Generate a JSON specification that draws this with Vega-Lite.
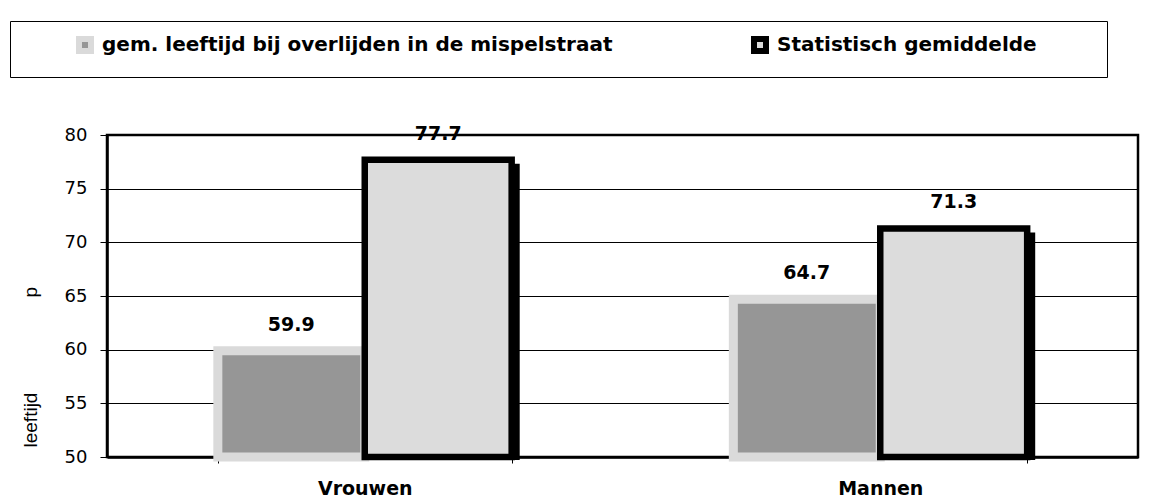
{
  "$schema": "https://vega.github.io/schema/vega-lite/v6.json",
  "width": 1031,
  "height": 322,
  "autosize": {"type": "none"},
  "padding": {"left": 107, "top": 135, "right": 21, "bottom": 44},
  "background": "white",
  "config": {
    "font": "DejaVu Sans",
    "view": {"stroke": "#000", "strokeWidth": 2.5},
    "legend": {
      "orient": "none",
      "legendX": -97,
      "legendY": -114,
      "direction": "horizontal",
      "padding": 14,
      "strokeColor": "#000",
      "strokeWidth": 1,
      "fillColor": "white",
      "symbolType": "square",
      "symbolSize": 144,
      "symbolStrokeWidth": 6,
      "symbolOffset": 51,
      "labelOffset": 7,
      "labelFont": "DejaVu Sans",
      "labelFontSize": 20,
      "labelFontWeight": "bold",
      "labelColor": "#000",
      "labelLimit": 2000,
      "columnPadding": 86,
      "titleOrient": "right",
      "titleFontSize": 1,
      "titlePadding": 56
    }
  },
  "data": {
    "values": [
      {"geslacht": "Vrouwen", "reeks": "gem. leeftijd bij overlijden in de mispelstraat", "leeftijd": 59.9},
      {"geslacht": "Vrouwen", "reeks": "Statistisch gemiddelde", "leeftijd": 77.7},
      {"geslacht": "Mannen", "reeks": "gem. leeftijd bij overlijden in de mispelstraat", "leeftijd": 64.7},
      {"geslacht": "Mannen", "reeks": "Statistisch gemiddelde", "leeftijd": 71.3}
    ]
  },
  "encoding": {
    "x": {
      "field": "geslacht",
      "type": "nominal",
      "sort": ["Vrouwen", "Mannen"],
      "scale": {"paddingInner": 0.43, "paddingOuter": 0.215},
      "axis": {
        "title": null,
        "labelAngle": 0,
        "labelFont": "DejaVu Sans",
        "labelFontSize": 19,
        "labelFontWeight": "bold",
        "labelColor": "#000",
        "labelPadding": 16,
        "tickBand": "extent",
        "tickSize": 6,
        "tickColor": "#000",
        "tickWidth": 1,
        "domain": true,
        "domainColor": "#000",
        "domainWidth": 2.5,
        "grid": false
      }
    },
    "y": {
      "field": "leeftijd",
      "type": "quantitative",
      "scale": {"domain": [50, 80], "zero": false, "nice": false},
      "axis": {
        "values": [50, 55, 60, 65, 70, 75, 80],
        "grid": true,
        "gridColor": "#000",
        "gridWidth": 1,
        "domain": true,
        "domainColor": "#000",
        "domainWidth": 2.5,
        "ticks": true,
        "tickSize": 7,
        "tickColor": "#000",
        "tickWidth": 1,
        "labelFont": "DejaVu Sans",
        "labelFontSize": 18,
        "labelColor": "#000",
        "labelPadding": 13,
        "title": "leeftijd\u00a0\u00a0\u00a0\u00a0\u00a0\u00a0\u00a0\u00a0\u00a0\u00a0\u00a0\u00a0\u00a0\u00a0\u00a0\u00a0\u00a0\u00a0p",
        "titleFont": "Liberation Sans",
        "titleFontSize": 19,
        "titleFontWeight": "normal",
        "titleColor": "#000",
        "titleAngle": 270,
        "titleAlign": "left",
        "titleBaseline": "alphabetic",
        "titleX": -71,
        "titleY": 312
      }
    }
  },
  "layer": [
    {
      "transform": [{"filter": "datum.reeks == 'Statistisch gemiddelde'"}],
      "mark": {"type": "bar", "fill": "#000", "width": {"band": 0.5}, "xOffset": 81.5, "yOffset": 4, "y2Offset": 3},
      "encoding": {
        "x": {"field": "geslacht", "type": "nominal", "sort": ["Vrouwen", "Mannen"]},
        "y2": {"datum": 50}
      }
    },
    {
      "transform": [{"filter": "datum.reeks != 'Statistisch gemiddelde'"}],
      "mark": {"type": "bar", "strokeWidth": 9, "fillOpacity": 1, "strokeOpacity": 1},
      "encoding": {
        "xOffset": {
          "field": "reeks", "type": "nominal",
          "scale": {"domain": ["gem. leeftijd bij overlijden in de mispelstraat", "Statistisch gemiddelde"]}
        },
        "y2": {"datum": 50},
        "fill": {
          "field": "reeks", "type": "nominal",
          "scale": {"domain": ["gem. leeftijd bij overlijden in de mispelstraat", "Statistisch gemiddelde"], "range": ["#969696", "#dcdcdc"]},
          "legend": {"title": "\u00a0"}
        },
        "stroke": {
          "field": "reeks", "type": "nominal",
          "scale": {"domain": ["gem. leeftijd bij overlijden in de mispelstraat", "Statistisch gemiddelde"], "range": ["#dadada", "#000000"]},
          "legend": {"title": "\u00a0"}
        }
      }
    },
    {
      "transform": [{"filter": "datum.reeks == 'Statistisch gemiddelde'"}],
      "mark": {"type": "bar", "strokeWidth": 6.5, "fillOpacity": 1, "strokeOpacity": 1},
      "encoding": {
        "xOffset": {
          "field": "reeks", "type": "nominal",
          "scale": {"domain": ["gem. leeftijd bij overlijden in de mispelstraat", "Statistisch gemiddelde"]}
        },
        "y2": {"datum": 50},
        "fill": {
          "field": "reeks", "type": "nominal",
          "scale": {"domain": ["gem. leeftijd bij overlijden in de mispelstraat", "Statistisch gemiddelde"], "range": ["#969696", "#dcdcdc"]},
          "legend": {"title": "\u00a0"}
        },
        "stroke": {
          "field": "reeks", "type": "nominal",
          "scale": {"domain": ["gem. leeftijd bij overlijden in de mispelstraat", "Statistisch gemiddelde"], "range": ["#dadada", "#000000"]},
          "legend": {"title": "\u00a0"}
        }
      }
    },
    {
      "mark": {"type": "text", "dy": -20, "baseline": "alphabetic", "align": "center", "font": "DejaVu Sans", "fontWeight": "bold", "fontSize": 19, "color": "#000"},
      "encoding": {
        "xOffset": {
          "field": "reeks", "type": "nominal",
          "scale": {"domain": ["gem. leeftijd bij overlijden in de mispelstraat", "Statistisch gemiddelde"]}
        },
        "text": {"field": "leeftijd", "type": "quantitative", "format": ".1f"}
      }
    }
  ]
}
